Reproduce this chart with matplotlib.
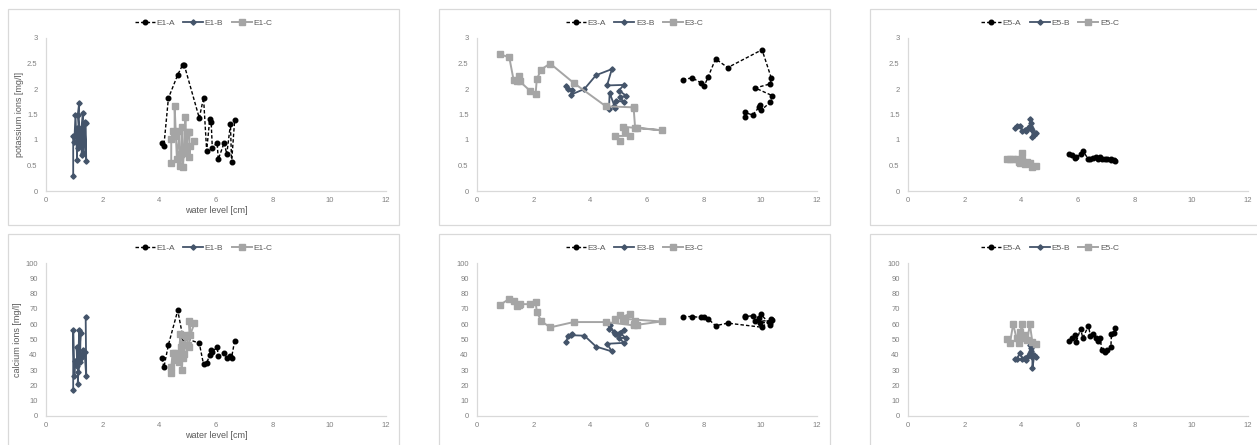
import matplotlib
matplotlib.use("Agg")
import matplotlib.pyplot as plt
from matplotlib.patches import Rectangle
from matplotlib.ticker import FuncFormatter

plt.rcParams["font.family"] = ["Liberation Sans", "DejaVu Sans"]

# ---- data: water level [cm], potassium [mg/l], calcium [mg/l]
e1a_x = [4.10, 4.16, 4.32, 4.65, 4.82, 4.88, 5.41, 5.56, 5.67, 5.78, 5.83, 5.87, 6.04, 6.08, 6.29, 6.38, 6.51, 6.55, 6.66]
e1a_k = [0.94, 0.88, 1.82, 2.28, 2.47, 2.47, 1.43, 1.83, 0.79, 1.41, 1.35, 0.84, 0.95, 0.62, 0.95, 0.72, 1.31, 0.56, 1.40]
e1a_ca = [37.8, 31.7, 46.5, 69.0, 52.5, 51.0, 47.6, 33.8, 34.5, 40.0, 43.2, 42.1, 44.8, 39.5, 41.0, 37.8, 39.3, 38.2, 49.3]

e1b_x = [0.96, 0.96, 1.00, 1.04, 1.10, 1.08, 1.14, 1.17, 1.12, 1.22, 1.20, 1.27, 1.25, 1.30, 1.32, 1.36, 1.42, 1.40]
e1b_k = [0.30, 1.07, 0.97, 1.49, 0.61, 1.23, 0.85, 1.72, 1.49, 0.90, 1.17, 0.71, 1.23, 1.53, 0.75, 1.36, 0.58, 1.33]
e1b_ca = [17, 56, 26, 36, 33, 45, 29, 56, 21, 54, 35, 40, 38, 43, 41, 42, 26, 65]

e1c_x = [4.42, 4.42, 4.47, 4.54, 4.54, 4.62, 4.71, 4.74, 4.77, 4.79, 4.81, 4.83, 4.88, 4.92, 4.95, 5.01, 5.06, 5.06, 5.09, 5.24]
e1c_k = [0.54, 1.01, 1.17, 1.07, 1.66, 0.62, 1.17, 0.49, 0.73, 0.80, 1.25, 0.48, 0.79, 1.46, 0.75, 1.15, 1.15, 0.67, 0.88, 0.99]
e1c_ca = [28.4, 31.7, 41.0, 41.0, 36.7, 37.8, 35.2, 53.5, 44.8, 30.1, 47.0, 37.8, 40.4, 53.0, 52.0, 46.5, 45.0, 62.0, 53.0, 60.7]

e3a_x = [7.26, 7.59, 7.91, 8.02, 8.16, 8.42, 8.85, 10.06, 10.39, 10.35, 9.82, 10.42, 10.35, 10.02, 9.98, 9.95, 9.73, 9.45, 9.45]
e3a_k = [2.18, 2.22, 2.12, 2.06, 2.24, 2.59, 2.42, 2.77, 2.21, 2.10, 2.02, 1.87, 1.74, 1.58, 1.69, 1.64, 1.49, 1.54, 1.45]
e3a_ca = [65.0, 65.0, 64.4, 64.4, 63.5, 59.0, 60.7, 58.0, 63.5, 60.5, 61.8, 62.5, 59.8, 66.5, 61.0, 64.0, 65.5, 65.0, 65.3]

e3b_x = [3.15, 3.21, 3.35, 3.32, 3.79, 4.20, 4.76, 4.59, 5.18, 5.01, 5.26, 5.04, 5.18, 4.92, 4.82, 4.88, 4.68, 4.66]
e3b_k = [2.05, 2.00, 1.98, 1.89, 2.00, 2.27, 2.39, 2.07, 2.08, 1.97, 1.87, 1.84, 1.75, 1.77, 1.67, 1.62, 1.93, 1.61]
e3b_ca = [48.5, 52.2, 53.8, 52.8, 52.5, 45.4, 42.2, 47.2, 47.8, 51.3, 50.8, 54.4, 56.3, 53.8, 55.2, 53.5, 59.5, 56.8]

e3c_x = [0.82, 1.14, 1.29, 1.41, 1.48, 1.51, 1.88, 2.07, 2.11, 2.26, 2.58, 3.41, 4.55, 5.54, 5.53, 5.58, 5.65, 6.52, 5.15, 5.22, 5.39, 4.88, 5.06]
e3c_k = [2.68, 2.62, 2.18, 2.15, 2.26, 2.15, 1.96, 1.91, 2.19, 2.38, 2.50, 2.12, 1.66, 1.64, 1.62, 1.24, 1.24, 1.19, 1.26, 1.17, 1.08, 1.08, 0.98]
e3c_ca = [72.7, 76.6, 75.3, 71.6, 72.7, 73.1, 73.1, 74.2, 68.3, 62.2, 57.9, 61.4, 61.4, 59.2, 60.0, 62.2, 59.6, 61.8, 63.5, 62.9, 66.6, 63.3, 65.7]

e5a_x = [5.69, 5.79, 5.91, 5.94, 6.09, 6.17, 6.37, 6.44, 6.53, 6.62, 6.71, 6.79, 6.83, 6.94, 7.04, 7.16, 7.18, 7.28, 7.31]
e5a_k = [0.72, 0.70, 0.64, 0.66, 0.72, 0.79, 0.62, 0.63, 0.64, 0.66, 0.62, 0.66, 0.63, 0.63, 0.63, 0.62, 0.61, 0.61, 0.58]
e5a_ca = [49.0, 51.0, 53.0, 48.5, 57.0, 51.0, 59.0, 52.0, 53.5, 51.3, 49.0, 51.3, 43.2, 42.1, 43.2, 44.8, 53.5, 54.0, 57.4]

e5b_x = [3.77, 3.83, 3.95, 4.04, 4.13, 4.18, 4.23, 4.30, 4.32, 4.35, 4.33, 4.39, 4.39, 4.46, 4.53]
e5b_k = [1.24, 1.28, 1.28, 1.18, 1.20, 1.17, 1.23, 1.28, 1.41, 1.33, 1.23, 1.20, 1.05, 1.10, 1.14]
e5b_ca = [37.1, 37.1, 41.0, 37.5, 38.2, 36.7, 39.5, 41.0, 46.5, 44.3, 42.6, 38.5, 31.2, 40.0, 38.4]

e5c_x = [3.48, 3.60, 3.71, 3.83, 3.91, 3.95, 4.04, 4.04, 4.12, 4.21, 4.30, 4.39, 4.51]
e5c_k = [0.62, 0.62, 0.62, 0.62, 0.57, 0.54, 0.74, 0.60, 0.53, 0.57, 0.54, 0.47, 0.50]
e5c_ca = [50.4, 47.6, 60.0, 50.9, 47.6, 54.8, 60.0, 50.9, 53.1, 49.8, 60.0, 48.3, 47.0]

groups = ["E1", "E3", "E5"]
series = {
    "E1": [(e1a_x, e1a_k, e1a_ca), (e1b_x, e1b_k, e1b_ca), (e1c_x, e1c_k, e1c_ca)],
    "E3": [(e3a_x, e3a_k, e3a_ca), (e3b_x, e3b_k, e3b_ca), (e3c_x, e3c_k, e3c_ca)],
    "E5": [(e5a_x, e5a_k, e5a_ca), (e5b_x, e5b_k, e5b_ca), (e5c_x, e5c_k, e5c_ca)],
}
suffix = ["A", "B", "C"]

styles = [
    dict(color="black", ls=(0, (2.5, 1.5)), lw=1.0, marker="o", ms=3.3),
    dict(color="#44546A", ls="-", lw=1.3, marker="D", ms=2.7),
    dict(color="#A5A5A5", ls="-", lw=1.4, marker="s", ms=4.4),
]

W, H = 1257, 445
fig = plt.figure(figsize=(W / 100, H / 100), dpi=100)
txt = "#595959"
edge = "#D9D9D9"

col_x0 = [46, 477, 908]
box_x = [(8, 399), (439, 830), (870, 1262)]
rows = [
    dict(top=38, bot=191, box=(9, 225), ymax=3, yticks=[0, 0.5, 1, 1.5, 2, 2.5, 3],
         ylabel="potassium ions [mg/l]", idx=1, leg_y=23),
    dict(top=263, bot=416, box=(234, 450), ymax=100, yticks=list(range(0, 101, 10)),
         ylabel="calcium ions [mg/l]", idx=2, leg_y=248),
]

for r in rows:
    for c, g in enumerate(groups):
        bx0, bx1 = box_x[c]
        by0, by1 = r["box"]
        fig.patches.append(Rectangle((bx0 / W, 1 - by1 / H), (bx1 - bx0) / W, (by1 - by0) / H,
                                     transform=fig.transFigure, fill=False, ec=edge, lw=0.9))
        ax = fig.add_axes([col_x0[c] / W, 1 - r["bot"] / H, 340 / W, (r["bot"] - r["top"]) / H])
        handles = []
        for s, sty in zip(series[g], styles):
            h, = ax.plot(s[0], s[r["idx"]], mfc=sty["color"], mec=sty["color"], **sty)
            handles.append(h)
        ax.set_xlim(0, 12)
        ax.set_ylim(0, r["ymax"])
        ax.set_xticks(range(0, 13, 2))
        ax.set_yticks(r["yticks"])
        ax.yaxis.set_major_formatter(FuncFormatter(lambda v, p: "%g" % v))
        ax.tick_params(length=0, labelsize=5.5, labelcolor="#808080")
        ax.tick_params(axis="x", pad=4)
        ax.tick_params(axis="y", pad=6)
        for sp in ["top", "right"]:
            ax.spines[sp].set_visible(False)
        for sp in ["left", "bottom"]:
            ax.spines[sp].set_color(edge)
            ax.spines[sp].set_linewidth(0.9)
        ax.patch.set_alpha(0)
        if c == 0:
            ax.set_xlabel("water level [cm]", fontsize=6.5, color=txt, labelpad=2)
            ax.set_ylabel(r["ylabel"], fontsize=6.5, color=txt, labelpad=2)
        fig.legend(handles, [f"{g}-{x}" for x in suffix], loc="center",
                   bbox_to_anchor=((bx0 + bx1) / 2 / W if c < 2 else 1050 / W, 1 - r["leg_y"] / H),
                   ncol=3, frameon=False, fontsize=6, labelcolor=txt,
                   handlelength=2.4, handletextpad=0.2, columnspacing=1.0)

fig.savefig("out.png", dpi=100)
